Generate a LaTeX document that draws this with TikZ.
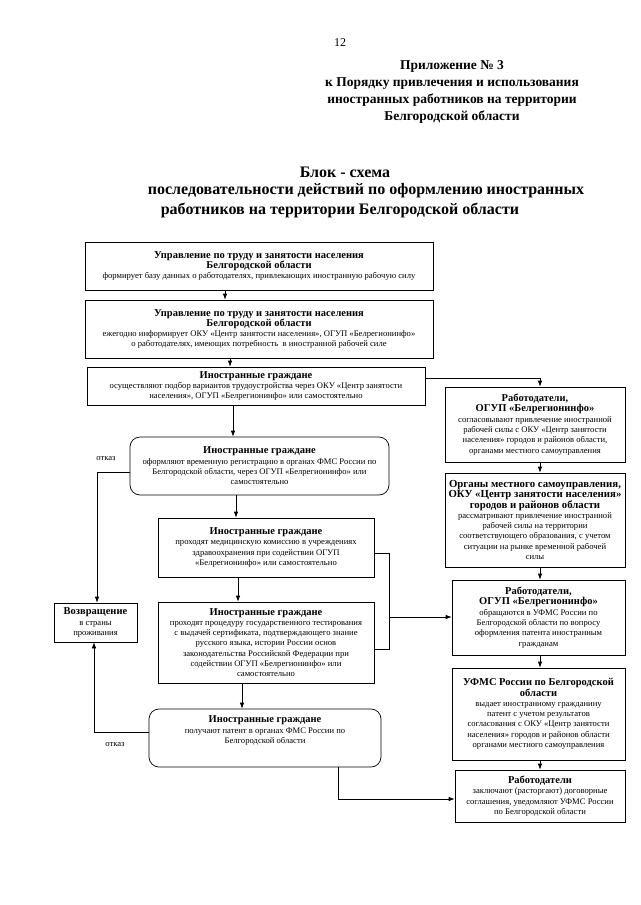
\documentclass[tikz,border=0pt]{standalone}
\usepackage{fontspec}
\setmainfont{Liberation Serif}
\usetikzlibrary{arrows.meta,calc}
\newcommand\hd[1]{{\bfseries\fontsize{10.5}{11}\selectfont #1}}
\newcommand\hdb[1]{{\bfseries\fontsize{10.8}{12}\selectfont #1}}
\begin{document}
\begin{tikzpicture}[x=1pt,y=-1pt,
  box/.style={draw,line width=0.7pt,align=center,inner sep=1pt,font=\fontsize{8.6}{10.3}\selectfont},
  rbox/.style={box,rounded corners=10pt},
  arr/.style={-{Latex[length=6pt,width=4.5pt]},line width=0.7pt},
  ln/.style={line width=0.7pt},
  lbl/.style={font=\fontsize{8.6}{10}\selectfont,inner sep=0pt}]
\fill[white] (0,0) rectangle (640,905);
\useasboundingbox (0,0) rectangle (640,905);

% header
\node[inner sep=0pt,font=\fontsize{12}{14}\selectfont] (pg) at (340,43) {12};
\node[inner sep=0pt,align=center,font=\bfseries\fontsize{13.5}{17}\selectfont] (app) at (452,92)
 {Приложение № 3\\к Порядку привлечения и использования\\иностранных работников на территории\\Белгородской области};
\node[inner sep=0pt,font=\bfseries\fontsize{16}{18}\selectfont] (t1) at (345,172) {Блок - схема};
\node[inner sep=0pt,font=\bfseries\fontsize{16}{18}\selectfont] (t2) at (366,191) {последовательности действий по оформлению иностранных};
\node[inner sep=0pt,font=\bfseries\fontsize{16}{18}\selectfont] (t3) at (340,210) {работников на территории Белгородской области};

% left column
\node[box,minimum width=348pt,minimum height=48pt] (b1) at (259,266)
 {\hd{Управление по труду и занятости населения}\\\hd{Белгородской области}\\формирует базу данных о работодателях, привлекающих иностранную рабочую силу};
\node[box,minimum width=348pt,minimum height=58pt] (b2) at (259,329)
 {\hd{Управление по труду и занятости населения}\\\hd{Белгородской области}\\ежегодно информирует ОКУ «Центр занятости населения», ОГУП «Белрегионинфо»\\о работодателях, имеющих потребность\ \ в иностранной рабочей силе};
\node[box,minimum width=338pt,minimum height=38pt] (b3) at (256,386)
 {\hd{Иностранные граждане}\\осуществляют подбор вариантов трудоустройства через ОКУ «Центр занятости\\населения», ОГУП «Белрегионинфо» или самостоятельно};
\node[rbox,minimum width=259pt,minimum height=58pt] (b4) at (259.5,466)
 {\hd{Иностранные граждане}\\оформляют временную регистрацию в органах ФМС России по\\Белгородской области, через ОГУП «Белрегионинфо» или\\самостоятельно};
\node[box,minimum width=216pt,minimum height=59pt] (b5) at (266,547.5)
 {\hd{Иностранные граждане}\\проходят медицинскую комиссию в учреждениях\\здравоохранения при содействии ОГУП\\«Белрегионинфо» или самостоятельно};
\node[box,minimum width=216pt,minimum height=81pt] (b6) at (266,642.5)
 {\hd{Иностранные граждане}\\проходят процедуру государственного тестирования\\с выдачей сертификата, подтверждающего знание\\русского языка, истории России основ\\законодательства Российской Федерации при\\содействии ОГУП «Белрегионинфо» или\\самостоятельно};
\node[box,minimum width=83pt,minimum height=39pt] (ret) at (95.5,622.5)
 {\hd{Возвращение}\\в страны\\проживания};
\node[rbox,minimum width=232pt,minimum height=58pt] (b7) at (265,738)
 {\hd{Иностранные граждане}\\получают патент в органах ФМС России по\\Белгородской области\\[6pt]};

% right column
\node[box,minimum width=180pt,minimum height=75pt] (r1) at (535,424.5)
 {\hd{Работодатели,}\\\hd{ОГУП «Белрегионинфо»}\\согласовывают привлечение иностранной\\рабочей силы с ОКУ «Центр занятости\\населения» городов и районов области,\\органами местного самоуправления};
\node[box,minimum width=180pt,minimum height=94pt] (r2) at (535,520)
 {\hdb{Органы местного самоуправления,}\\\hdb{ОКУ «Центр занятости населения»}\\\hdb{городов и районов области}\\рассматривают привлечение иностранной\\рабочей силы на территории\\соответствующего образования, с учетом\\ситуации на рынке временной рабочей\\силы};
\node[box,minimum width=173pt,minimum height=75pt] (r3) at (538.5,617.5)
 {\hd{Работодатели,}\\\hd{ОГУП «Белрегионинфо»}\\обращаются в УФМС России по\\Белгородской области по вопросу\\оформления патента иностранным\\гражданам};
\node[box,minimum width=173pt,minimum height=92pt] (r4) at (538.5,714)
 {\hd{УФМС России по Белгородской}\\\hd{области}\\выдает иностранному гражданину\\патент с учетом результатов\\согласования с ОКУ «Центр занятости\\населения» городов и районов области\\органами местного самоуправления};
\node[box,minimum width=170pt,minimum height=52pt] (r5) at (540,796)
 {\hd{Работодатели}\\заключают (расторгают) договорные\\соглашения, уведомляют УФМС России\\по Белгородской области};

% labels
\node[lbl] (ot1) at (106,459) {отказ};
\node[lbl] (ot2) at (115,745) {отказ};

% helper coordinates
\coordinate (xa) at (225,0);
\coordinate (xb) at (230,0);
\coordinate (xc) at (233,0);
\coordinate (xd) at (236,0);
\coordinate (xe) at (238,0);
\coordinate (xf) at (242,0);
\coordinate (xr) at (540,0);
\coordinate (xl1) at (97,0);
\coordinate (xl2) at (94,0);
\coordinate (xbr) at (389,0);
\coordinate (xbt) at (338,0);
\coordinate (y3) at (0,378);
\coordinate (y4) at (0,472);
\coordinate (y5) at (0,553);
\coordinate (y6) at (0,649);
\coordinate (ymid) at (0,617);
\coordinate (y7) at (0,732);
\coordinate (y7b) at (0,799);

% connectors
\draw[arr] (xa |- b1.south) -- (xa |- b2.north);
\draw[arr] (xb |- b2.south) -- (xb |- b3.north);
\draw[arr] (xc |- b3.south) -- (xc |- b4.north);
\draw[arr] (xd |- b4.south) -- (xd |- b5.north);
\draw[arr] (xe |- b5.south) -- (xe |- b6.north);
\draw[arr] (xf |- b6.south) -- (xf |- b7.north);
\draw[arr] (b3.east |- y3) -- (xr |- y3) -- (xr |- r1.north);
\draw[arr] (xr |- r1.south) -- (xr |- r2.north);
\draw[arr] (xr |- r2.south) -- (xr |- r3.north);
\draw[arr] (xr |- r3.south) -- (xr |- r4.north);
\draw[arr] (xr |- r4.south) -- (xr |- r5.north);
\draw[arr] (b4.west |- y4) -- (xl1 |- y4) -- (xl1 |- ret.north);
\draw[arr] (b7.west |- y7) -- (xl2 |- y7) -- (xl2 |- ret.south);
\draw[ln] (b5.east |- y5) -- (xbr |- y5) -- (xbr |- y6) -- (b6.east |- y6);
\draw[arr] (xbr |- ymid) -- (r3.west |- ymid);
\draw[arr] (xbt |- b7.south) -- (xbt |- y7b) -- (r5.west |- y7b);
\end{tikzpicture}
\end{document}
